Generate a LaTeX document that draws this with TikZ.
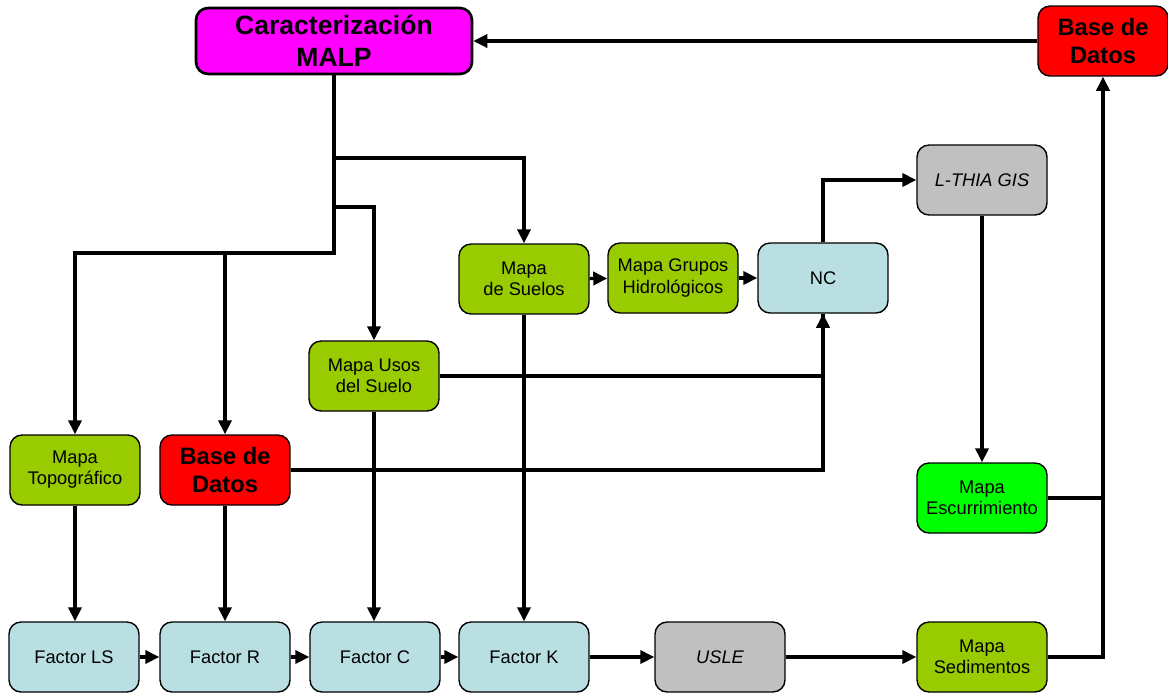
\documentclass[tikz,border=0pt]{standalone}
\usepackage{fontspec}
\setmainfont{Liberation Sans}
\usetikzlibrary{arrows.meta}
\definecolor{verde}{HTML}{99CC00}
\definecolor{celeste}{HTML}{B9DFE3}
\definecolor{gris}{HTML}{C0C0C0}
\definecolor{verdevivo}{HTML}{00FF00}
\definecolor{fucsia}{HTML}{FF00FF}
\definecolor{rojo}{HTML}{FF0000}
\tikzset{
  caja/.style={draw, rounded corners=0.24cm, minimum width=2.6cm, minimum height=1.4cm,
    align=center, line width=0.8pt, font=\fontsize{10.4}{12}\selectfont},
  base/.style={caja, fill=rojo, font=\fontsize{13.5}{15.8}\selectfont\bfseries},
  flecha/.style={line width=1.8pt, -{Triangle[length=8pt,width=7.5pt]}},
  linea/.style={line width=1.8pt}
}
\begin{document}
\begin{tikzpicture}[x=0.02cm,y=-0.02cm]
				\useasboundingbox (0,0) rectangle (1168,697);
				\node[caja, fill=fucsia, minimum width=5.52cm, minimum height=1.32cm, line width=1.5pt,
					font=\fontsize{15.1}{18}\selectfont\bfseries] (malp) at (334,41) {Caracterización\\MALP};
				\node[base] (bdr) at (1103,41) {Base de\\Datos};
				\node[caja, fill=verde] (suelos) at (524,279) {Mapa\\de Suelos};
				\node[caja, fill=verde] (grupos) at (673,278) {Mapa Grupos\\Hidrológicos};
				\node[caja, fill=celeste] (nc) at (823,278) {NC};
				\node[caja, fill=gris, font=\fontsize{10.4}{12}\selectfont\itshape] (lthia) at (982,180) {L-THIA GIS};
				\node[caja, fill=verde] (usos) at (374,376) {Mapa Usos\\del Suelo};
				\node[caja, fill=verde] (topo) at (75,470) {Mapa\\Topográfico};
				\node[base] (bdl) at (225,470) {Base de\\Datos};
				\node[caja, fill=verdevivo] (escurr) at (982,498) {Mapa\\Escurrimiento};
				\node[caja, fill=celeste] (fls) at (74,657) {Factor LS};
				\node[caja, fill=celeste] (fr) at (225,657) {Factor R};
				\node[caja, fill=celeste] (fc) at (375,657) {Factor C};
				\node[caja, fill=celeste] (fk) at (524,657) {Factor K};
				\node[caja, fill=gris, font=\fontsize{10.4}{12}\selectfont\itshape] (usle) at (720,657) {USLE};
				\node[caja, fill=verde] (sedim) at (982,657) {Mapa\\Sedimentos};
				
				\coordinate (bus) at (334,253);
				\draw[flecha] (malp.south) -- (bus) -| (topo.north);
				\draw[flecha] (bdl |- bus) -- (bdl.north);
				\draw[flecha] (malp.south |- 0,158) -| (suelos.north);
				\draw[flecha] (malp.south |- 0,207) -| (usos.north);
				\draw[flecha] (bdr.west) -- (malp.east);
				
				\draw[flecha] (suelos) -- (grupos);
				\draw[flecha] (grupos) -- (nc);
				\draw[flecha] (nc.north) |- (lthia.west);
				\draw[flecha] (lthia) -- (escurr);
				\draw[flecha] (usos.east) -| (nc.south);
				\draw[linea] (bdl.east) -| (nc.south);
				
				\draw[flecha] (topo.south) -- (topo.south |- fls.north);
				\draw[flecha] (bdl) -- (fr);
				\draw[flecha] (usos.south) -- (usos.south |- fc.north);
				\draw[flecha] (suelos) -- (fk);
				
				\draw[flecha] (fls) -- (fr);
				\draw[flecha] (fr) -- (fc);
				\draw[flecha] (fc) -- (fk);
				\draw[flecha] (fk) -- (usle);
				\draw[flecha] (usle) -- (sedim);
				\draw[flecha] (sedim.east) -| (bdr.south);
				\draw[linea] (escurr.east) -- (escurr.east -| bdr.south);
			\end{tikzpicture}
\end{document}
